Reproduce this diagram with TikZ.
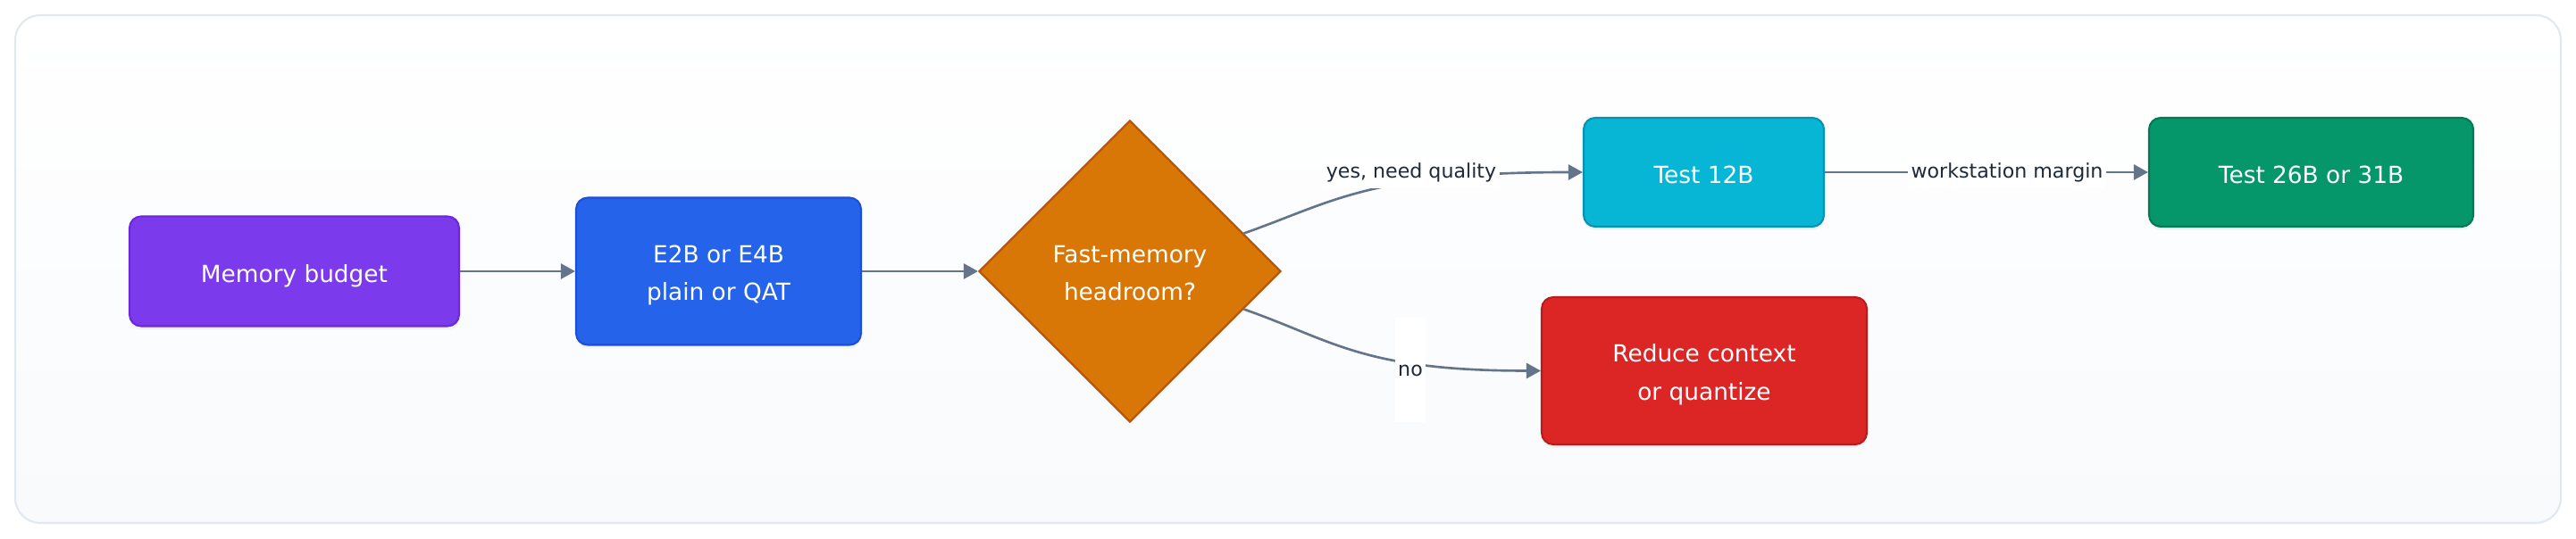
\documentclass[tikz,border=0pt]{standalone}
\usepackage{fontspec}
\setmainfont{DejaVu Sans}
\usepackage{xcolor}
\usetikzlibrary{arrows.meta,positioning,calc,shapes.geometric,shadows}

\definecolor{budgetfill}{HTML}{7C3AED}\definecolor{budgetline}{HTML}{6D28D9}
\definecolor{smallfill}{HTML}{2563EB}\definecolor{smallline}{HTML}{1D4ED8}
\definecolor{askfill}{HTML}{D97706}\definecolor{askline}{HTML}{B45309}
\definecolor{midfill}{HTML}{06B6D4}\definecolor{midline}{HTML}{0891B2}
\definecolor{bigfill}{HTML}{059669}\definecolor{bigline}{HTML}{047857}
\definecolor{cutfill}{HTML}{DC2626}\definecolor{cutline}{HTML}{B91C1C}
\definecolor{edgecol}{HTML}{64748B}
\definecolor{lbltext}{HTML}{1E293B}
\definecolor{framecol}{HTML}{E2E8F0}
\definecolor{framebot}{HTML}{F8FAFC}

\newcommand{\boxfont}{\fontsize{7.5}{12}\selectfont}
\newcommand{\lblfont}{\fontsize{6.3}{8}\selectfont}

\begin{document}
\begin{tikzpicture}[>={Triangle[length=0.16cm,width=0.17cm]},x=1cm,y=1cm,
  box/.style={rounded corners=0.13cm,line width=0.6pt,text=white,font=\boxfont,
    align=center,inner sep=0pt,drop shadow={opacity=0.07,shadow xshift=0pt,shadow yshift=-0.04cm}},
  oneline/.style={text height=7.1pt,text depth=0pt},
  twoline/.style={text height=18.5pt,text depth=0pt},
  flow/.style={->,draw=edgecol,line width=0.75pt},
  lbl/.style={fill=white,text=lbltext,font=\lblfont,inner xsep=1pt,inner ysep=2pt}]
\useasboundingbox (0,0) rectangle (28.84,6.04);
% frame
\draw[draw=framecol,line width=0.6pt,rounded corners=0.28cm,top color=white,bottom color=framebot]
  (0.17,0.18) rectangle (28.67,5.87);
% steps
\node[box,oneline,fill=budgetfill,draw=budgetline,minimum width=3.69cm,minimum height=1.23cm] (budget) at (3.295,3.0) {Memory budget};
\node[box,twoline,fill=smallfill,draw=smallline,minimum width=3.19cm,minimum height=1.65cm] (small) at (8.045,3.0) {E2B or E4B\\plain or QAT};
\node[diamond,twoline,fill=askfill,draw=askline,line width=0.6pt,text=white,font=\boxfont,align=center,
  inner sep=0pt,minimum width=3.38cm,minimum height=3.38cm] (ask) at (12.65,3.0) {Fast-memory\\headroom?};
\node[box,oneline,fill=midfill,draw=midline,minimum width=2.69cm,minimum height=1.22cm] (mid) at (19.075,4.11) {Test 12B};
\node[box,oneline,fill=bigfill,draw=bigline,minimum width=3.63cm,minimum height=1.22cm] (big) at (25.875,4.11) {Test 26B or 31B};
\node[box,twoline,fill=cutfill,draw=cutline,minimum width=3.64cm,minimum height=1.65cm] (cut) at (19.08,1.885) {Reduce context\\or quantize};
% connectors
\coordinate (askyes) at ($(ask.north)!0.75!(ask.east)$);
\coordinate (askno) at ($(ask.south)!0.75!(ask.east)$);
\draw[flow] (budget) -- (small);
\draw[flow] (small) -- (ask);
\draw[flow] (askyes) .. controls +(1.0,0.35) and +(-2.4,0) .. (mid.west);
\draw[flow] (askno) .. controls +(1.0,-0.35) and +(-2.0,0) .. (cut.west);
\draw[flow] (mid) -- (big);
% edge labels
\node[lbl] (lyes) at (15.80,4.11) {yes, need quality};
\node[lbl,minimum height=1.17cm] (lno) at (15.79,1.89) {no};
\node[lbl] (lwork) at (22.47,4.11) {workstation margin};
\end{tikzpicture}
\end{document}
